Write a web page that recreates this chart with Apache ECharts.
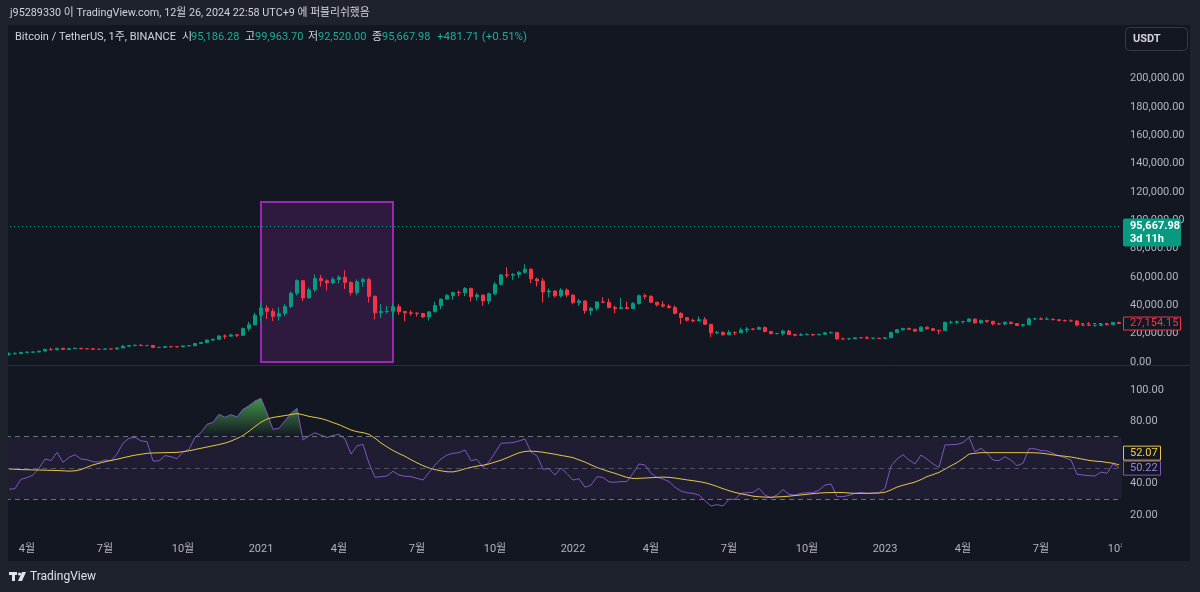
<!DOCTYPE html>
<html>
<head>
<meta charset="utf-8">
<script src="https://cdn.jsdelivr.net/npm/echarts@6/dist/echarts.min.js"></script>
<style>
html,body{margin:0;padding:0;background:#1e222d;}
#c{width:1200px;height:592px;}
</style>
</head>
<body>
<div id="c"></div>
<script>
// ---------- DATA ----------
const dates = [
'2020-03-16','2020-03-23','2020-03-30','2020-04-06','2020-04-13','2020-04-20','2020-04-27','2020-05-04','2020-05-11','2020-05-18','2020-05-25','2020-06-01','2020-06-08','2020-06-15','2020-06-22','2020-06-29','2020-07-06','2020-07-13','2020-07-20','2020-07-27','2020-08-03','2020-08-10','2020-08-17','2020-08-24','2020-08-31','2020-09-07','2020-09-14','2020-09-21','2020-09-28','2020-10-05','2020-10-12','2020-10-19','2020-10-26','2020-11-02','2020-11-09','2020-11-16','2020-11-23','2020-11-30','2020-12-07','2020-12-14','2020-12-21','2020-12-28',
'2021-01-04','2021-01-11','2021-01-18','2021-01-25','2021-02-01','2021-02-08','2021-02-15','2021-02-22','2021-03-01','2021-03-08','2021-03-15','2021-03-22','2021-03-29','2021-04-05','2021-04-12','2021-04-19','2021-04-26','2021-05-03','2021-05-10','2021-05-17','2021-05-24','2021-05-31','2021-06-07','2021-06-14','2021-06-21','2021-06-28','2021-07-05','2021-07-12','2021-07-19','2021-07-26','2021-08-02','2021-08-09','2021-08-16','2021-08-23','2021-08-30','2021-09-06','2021-09-13','2021-09-20','2021-09-27','2021-10-04','2021-10-11','2021-10-18','2021-10-25','2021-11-01','2021-11-08','2021-11-15','2021-11-22','2021-11-29','2021-12-06','2021-12-13','2021-12-20','2021-12-27',
'2022-01-03','2022-01-10','2022-01-17','2022-01-24','2022-01-31','2022-02-07','2022-02-14','2022-02-21','2022-02-28','2022-03-07','2022-03-14','2022-03-21','2022-03-28','2022-04-04','2022-04-11','2022-04-18','2022-04-25','2022-05-02','2022-05-09','2022-05-16','2022-05-23','2022-05-30','2022-06-06','2022-06-13','2022-06-20','2022-06-27','2022-07-04','2022-07-11','2022-07-18','2022-07-25','2022-08-01','2022-08-08','2022-08-15','2022-08-22','2022-08-29','2022-09-05','2022-09-12','2022-09-19','2022-09-26','2022-10-03','2022-10-10','2022-10-17','2022-10-24','2022-10-31','2022-11-07','2022-11-14','2022-11-21','2022-11-28','2022-12-05','2022-12-12','2022-12-19','2022-12-26',
'2023-01-02','2023-01-09','2023-01-16','2023-01-23','2023-01-30','2023-02-06','2023-02-13','2023-02-20','2023-02-27','2023-03-06','2023-03-13','2023-03-20','2023-03-27','2023-04-03','2023-04-10','2023-04-17','2023-04-24','2023-05-01','2023-05-08','2023-05-15','2023-05-22','2023-05-29','2023-06-05','2023-06-12','2023-06-19','2023-06-26','2023-07-03','2023-07-10','2023-07-17','2023-07-24','2023-07-31','2023-08-07','2023-08-14','2023-08-21','2023-08-28','2023-09-04','2023-09-11','2023-09-18','2023-09-25','2023-10-02'
];

const open = [
5361,5816,5881,6775,6911,7120,7698,8892,8722,9680,
8900,9453,9653,9378,9299,9012,8990,9235,9160,9940,
11100,11600,11850,11650,11620,10250,10330,10920,10780,10670,
11370,11500,13030,13800,15480,16000,18400,18200,19150,18800,
23700,26270,33000,38150,35800,32260,34250,39200,48600,57400,
45200,50970,59000,57300,55800,58200,59800,56150,49100,56700,
58200,46400,34700,35700,35800,39000,35600,34700,34500,34250,
31800,35400,39850,44400,47000,49000,48900,51800,46000,47300,
43100,48200,54900,61500,61300,61800,63300,65500,58600,57200,
49400,50100,46700,50800,47300,41900,43100,36300,37900,42400,
42200,38400,37700,38400,37800,41300,46800,46400,42200,40400,
39450,38470,34300,31300,29450,29000,29900,26600,20550,21000,
19300,20850,20600,22600,23300,23200,24300,21500,20000,20100,
21800,19400,18900,19300,19400,19200,19550,20600,20900,16300,
16280,16450,17100,17080,16780,16830,16600,17100,20900,22700,
23700,23100,21800,24600,23500,22400,22100,28000,28050,28450,
28600,30300,27600,29250,28700,26900,26850,28100,27100,25850,
26350,30450,30550,30200,30280,29850,29250,29050,28950,26100,
26000,25850,25900,26550,26250,27950
];
const high = [
6900,6957,7200,7469,7295,7792,9460,10067,9936,9906,
9740,10429,9996,9800,9750,9364,9470,9350,10120,12123,
12081,12245,12486,11800,12086,10800,11180,10990,10950,11500,
11720,13350,14100,15970,16480,18800,19500,19900,19420,24300,
28420,34778,41950,40100,37850,38530,40950,49700,58350,57500,
52640,61800,61500,58400,60000,61300,64850,57000,58450,59600,
59600,46700,40900,39500,41330,41000,36100,36600,35100,34650,
35400,42600,44800,48100,49400,50500,52900,52700,48800,47300,
49000,56560,62000,67000,62800,64270,69000,66300,59500,59400,
51950,50500,52100,52000,47550,44500,43500,38900,42650,45850,
44750,39850,45400,42600,42300,47700,48200,47000,42400,43000,
40800,40000,35200,31400,30600,32200,31700,26900,21900,21500,
22500,21600,24300,24700,23650,25200,25200,22000,20600,22800,
22800,19950,20350,20500,19950,19700,21100,21450,21000,17200,
16800,17400,17400,18400,17000,16900,17400,21300,23300,23800,
24250,23400,25250,25000,23900,22600,28400,29200,29200,28800,
31000,30500,30000,29800,29100,27700,28400,28450,27400,26850,
31400,31300,31500,31800,30400,30000,30050,30250,29500,26800,
28150,26400,27400,27450,28000,28600
];
const low = [
4442,5688,5858,6600,6466,6753,7631,8117,8200,8811,
8632,9266,8917,9200,8830,8893,8950,9000,9027,9920,
10956,11125,11400,11100,9825,9875,10200,10136,10365,10530,
11150,11400,12970,13200,14800,15780,16200,18000,17570,18700,
21800,25800,28130,30300,28850,29240,32300,37990,47000,43000,
44950,49250,53270,50400,55000,55500,51500,47000,47050,53000,
42000,30000,31100,34100,31000,33300,28800,32700,32100,31000,
29300,35200,37300,43800,43900,46300,46500,42800,43400,39600,
40750,47100,53900,59500,58000,59400,62300,55600,53250,42000,
45600,45500,45500,45700,40700,39700,34000,32900,36250,41600,
38000,34300,37200,37200,37600,40500,44200,41900,39200,38500,
37700,33700,26700,28700,28000,28900,26500,17600,19600,18600,
19000,18900,20600,20700,22400,22700,20800,19500,19500,18500,
19300,18100,18500,19000,18200,18900,19100,20000,15600,15800,
15500,16000,16700,16500,16300,16400,16500,17100,20400,22300,
22500,21400,21350,22800,21900,19550,21900,26600,26500,27200,
28150,27100,26950,27650,25800,26350,25900,26600,25350,24800,
26250,29500,29700,29900,29500,28900,28600,28750,25150,25800,
25400,24900,25150,26000,26000,27100
];
const close = [
5816,5881,6775,6911,7120,7698,8892,8722,9680,8900,
9453,9653,9378,9299,9012,8990,9235,9160,9940,11100,
11600,11850,11650,11620,10250,10330,10920,10780,10670,11370,
11500,13030,13800,15480,16000,18400,18200,19150,18800,23700,
26270,33000,38150,35800,32260,34250,39200,48600,57400,45200,
50970,59000,57300,55800,58200,59800,56150,49100,56700,58200,
46400,34700,35700,35800,39000,35600,34700,34500,34250,31800,
35400,39850,44400,47000,49000,48900,51800,46000,47300,43100,
48200,54900,61500,61300,61800,63300,65500,58600,57200,49400,
50100,46700,50800,47300,41900,43100,36300,37900,42400,42200,
38400,37700,38400,37800,41300,46800,46400,42200,40400,39450,
38470,34300,31300,29450,29000,29900,26600,20550,21000,19300,
20850,20600,22600,23300,23200,24300,21500,20000,20100,21800,
19400,18900,19300,19400,19200,19550,20600,20900,16300,16280,
16450,17100,17080,16780,16830,16600,17100,20900,22700,23700,
23100,21800,24600,23500,22400,22100,28000,28050,28450,28600,
30300,27600,29250,28700,26900,26850,28100,27100,25850,26350,
30450,30550,30200,30280,29850,29250,29050,28950,26100,26000,
25850,25900,26550,26250,27950,27154.15
];
const rsi = [
36.4,36.8,42.8,43.8,45.5,49.8,55.7,54.7,60.0,53.6,
56.8,58.5,55.7,55.3,54.0,53.8,55.1,54.7,58.9,65.8,
69.0,69.6,67.3,66.8,54.5,54.5,57.9,57.2,55.9,60.2,
61.9,69.6,72.6,77.9,79.2,84.3,82.4,84.1,82.6,87.5,
89.8,92.8,94.5,85.0,74.7,75.4,80.2,85.0,88.1,67.9,
70.5,72.5,71.0,69.5,70.8,71.5,68.5,58.9,64.1,65.1,
53.0,44.0,44.5,44.9,47.9,45.5,44.7,44.5,43.4,42.3,
47.0,51.9,55.7,58.3,59.4,59.8,61.5,54.7,55.5,50.4,
54.0,59.8,65.8,66.0,66.2,67.3,68.5,60.2,57.7,49.2,
49.6,45.5,50.0,46.4,42.3,43.2,37.7,39.1,44.5,44.0,
41.1,40.9,41.3,41.3,46.6,52.6,51.9,46.6,44.0,43.0,
41.3,37.7,35.3,34.2,33.8,32.7,29.1,25.7,26.6,25.7,
30.0,30.0,33.8,34.2,34.4,37.0,32.7,31.0,32.7,36.2,
33.2,32.7,33.8,34.2,34.2,35.9,39.1,39.8,31.7,31.7,
32.5,33.8,34.4,33.8,34.0,34.2,37.0,51.3,55.7,58.5,
55.1,52.6,58.3,55.7,52.6,50.4,64.7,64.9,65.1,66.2,
69.6,60.4,62.6,59.4,55.1,54.7,57.2,55.1,51.5,53.0,
62.3,62.3,61.1,60.9,59.4,57.7,56.6,55.1,46.0,45.5,
45.1,44.9,47.4,46.6,52.6,50.22
];
const rsiMA = [
49.4,49.2,49.0,48.9,48.8,48.7,48.6,48.5,48.4,48.2,
48.0,48.2,49.0,50.5,52.0,53.0,54.0,54.8,55.6,56.5,
57.4,58.2,58.8,59.4,59.6,59.7,59.8,59.9,60.0,60.4,
61.0,61.8,62.6,63.4,64.2,65.0,65.9,67.2,68.9,70.8,
73.5,76.5,79.3,81.3,82.3,82.9,83.5,84.2,84.8,84.0,
83.0,82.3,81.6,80.5,79.0,77.7,76.0,74.3,73.2,72.6,
71.5,69.0,66.0,63.5,61.2,59.2,57.5,55.3,53.3,51.5,
50.0,49.0,48.2,47.6,47.5,48.3,49.5,50.4,51.2,51.8,
52.6,53.8,55.0,56.5,58.2,59.7,60.6,60.8,60.5,60.1,
59.4,58.8,58.0,57.4,56.6,55.2,53.8,52.0,50.3,49.0,
47.7,46.6,45.2,44.0,43.3,43.4,43.6,43.8,44.0,44.2,
44.0,43.6,43.0,42.4,41.9,41.3,40.6,39.5,38.2,36.8,
35.5,34.4,33.5,32.8,32.0,31.6,31.4,31.3,31.5,31.7,
32.0,32.4,32.8,33.2,33.6,34.0,34.2,34.3,34.4,34.3,
34.0,33.8,33.8,33.8,33.9,34.0,34.5,36.0,37.8,39.0,
40.0,41.0,42.6,44.5,45.8,47.2,49.3,51.4,53.5,56.0,
58.9,59.4,59.8,59.8,59.8,59.8,59.8,59.8,59.8,59.8,
59.8,59.7,59.5,59.0,58.4,57.9,57.5,57.0,56.3,55.6,
54.9,54.4,54.1,53.6,53.0,52.07
];

const tickDates  = ['2020-04-06','2020-07-06','2020-10-05','2021-01-04','2021-04-05','2021-07-05','2021-10-04','2022-01-03','2022-04-04','2022-07-04','2022-10-03','2023-01-02','2023-04-03','2023-07-03','2023-10-02'];
const tickLabels = ['4월','7월','10월','2021','4월','7월','10월','2022','4월','7월','10월','2023','4월','7월','10월'];
const rsiTickLabels = [20, 40, 80, 100];
const rsiLevels = [70, 50, 30];
const lastPrice = 95667.98;
const lastClose = 27154.15;
const rsiLast = 50.22;
const maLast = 52.07;
const boxFrom = '2021-01-04', boxTo = '2021-06-07', boxTop = 112900, boxBottom = 0;

// ---------- CHART ----------
const FONT = 'Roboto, "Noto Sans CJK KR", sans-serif';
const UP = '#089981', DOWN = '#f23645';
const FRAME = '#1e222d', BG = '#131722';
const chart = echarts.init(document.getElementById('c'), null, {width:1200, height:592});

const candles = dates.map((d, i) => [open[i], close[i], low[i], high[i]]);
const fmtPrice = v => v.toLocaleString('en-US', {minimumFractionDigits:2, maximumFractionDigits:2});

const axisLabelStyle = {color:'#b2b5be', fontSize:11, fontFamily:FONT};

const option = {
  animation: false,
  backgroundColor: BG,
  textStyle: {fontFamily: FONT},
  grid: [
    {left:6, right:78, top:22, height:340},
    {left:6, right:78, top:358.45, height:187.8},
    {left:6, right:78, top:530, height:4}
  ],
  xAxis: [
    {type:'category', gridIndex:0, data:dates, show:false},
    {type:'category', gridIndex:1, data:dates, show:false},
    {type:'category', gridIndex:2, data:dates,
      axisLine:{show:false}, axisTick:{show:false}, splitLine:{show:false},
      axisLabel: Object.assign({}, axisLabelStyle, {
        margin: 10,
        interval: (i, v) => tickDates.indexOf(v) >= 0,
        formatter: v => { const j = tickDates.indexOf(v); return j >= 0 ? tickLabels[j] : ''; }
      })
    }
  ],
  yAxis: [
    {type:'value', gridIndex:0, position:'right', min:0, max:240000, interval:20000,
      splitLine:{show:false}, axisLine:{show:false}, axisTick:{show:false},
      axisLabel: Object.assign({}, axisLabelStyle, {margin:8, showMaxLabel:false,
        formatter: v => v > 200000 ? '' : fmtPrice(v)})
    },
    {type:'value', gridIndex:1, position:'right', min:0, max:120, interval:20,
      splitLine:{show:false}, axisLine:{show:false}, axisTick:{show:false},
      axisLabel: Object.assign({}, axisLabelStyle, {margin:8,
        formatter: v => rsiTickLabels.indexOf(v) >= 0 ? v.toFixed(2) : ''})
    },
    {type:'value', gridIndex:2, show:false}
  ],
  series: [
    {
      name:'BTCUSDT', type:'candlestick', xAxisIndex:0, yAxisIndex:0,
      data: candles, barWidth: 4,
      itemStyle: {color:UP, color0:DOWN, borderColor:UP, borderColor0:DOWN, borderWidth:1},
      markArea: {
        silent:true, label:{show:false},
        itemStyle:{color:'rgba(156,39,176,0.2)', borderColor:'#9c27b0', borderWidth:2},
        data: [[{coord:[boxFrom, boxTop]}, {coord:[boxTo, boxBottom]}]]
      },
      markLine: {
        silent:true, symbol:'none', label:{show:false},
        lineStyle:{color:UP, type:[1,3], width:1},
        data:[{yAxis:lastPrice}]
      }
    },
    {
      name:'RSI', type:'line', xAxisIndex:1, yAxisIndex:1, data: rsi,
      symbol:'none', z:3,
      lineStyle:{color:'#7e57c2', width:1},
      areaStyle:{color:'rgba(0,0,0,0)', opacity:1},
      markArea: {
        silent:true, label:{show:false},
        itemStyle:{color:'rgba(126,87,194,0.1)'},
        data: [[{yAxis:rsiLevels[2]}, {yAxis:rsiLevels[0]}]]
      },
      markLine: {
        silent:true, symbol:'none', label:{show:false},
        lineStyle:{color:'#787b86', type:[5,4], width:1},
        data: rsiLevels.map(v => ({yAxis:v, lineStyle:{opacity: v === 50 ? 0.55 : 0.9}}))
      }
    },
    {
      name:'RSI MA', type:'line', xAxisIndex:1, yAxisIndex:1, data: rsiMA,
      symbol:'none', z:4,
      lineStyle:{color:'#e8c547', width:1}
    }
  ]
};
chart.setOption(option);

// overbought gradient fill, positioned with the RSI axis scale
const y100 = chart.convertToPixel({yAxisIndex:1}, 100);
const y70 = chart.convertToPixel({yAxisIndex:1}, 70);
const grad = new echarts.graphic.LinearGradient(0, y100, 0, y70, [
  {offset:0, color:'rgba(76,175,80,1)'},
  {offset:1, color:'rgba(76,175,80,0)'}
], true);

const yP = chart.convertToPixel({yAxisIndex:0}, lastPrice);
const yC = chart.convertToPixel({yAxisIndex:0}, lastClose);
const yR = chart.convertToPixel({yAxisIndex:1}, rsiLast);

function txt(text, x, y, fill, size, weight, extra) {
  return Object.assign({type:'text', z:120, silent:true, style:{
    text, x, y, fill, fontSize:size || 11, fontFamily:FONT, fontWeight: weight || 'normal',
    verticalAlign:'middle', textVerticalAlign:'middle', align:'left', textAlign:'left'
  }}, extra || {});
}
const LBL = '#d1d4dc', VAL = '#22ab94';
const graphics = [
  // outer frame strips
  {type:'rect', z:100, silent:true, shape:{x:0,y:0,width:1200,height:25}, style:{fill:FRAME}},
  {type:'rect', z:100, silent:true, shape:{x:0,y:0,width:8,height:592}, style:{fill:FRAME}},
  {type:'rect', z:100, silent:true, shape:{x:1190,y:0,width:10,height:592}, style:{fill:FRAME}},
  {type:'rect', z:100, silent:true, shape:{x:0,y:561,width:1200,height:31}, style:{fill:FRAME}},
  // price-scale column over the time row
  {type:'rect', z:100, silent:true, shape:{x:1122,y:537,width:68,height:24}, style:{fill:BG}},
  // pane separator
  {type:'line', z:90, silent:true, shape:{x1:8,y1:365.5,x2:1190,y2:365.5}, style:{stroke:'#2a2e39', lineWidth:1}},
  // title
  txt('j95289330 이 TradingView.com, 12월 26, 2024 22:58 UTC+9 에 퍼블리쉬했음', 10, 13, LBL, 10.8),
  // legend
  txt('Bitcoin / TetherUS, 1주, BINANCE', 15, 37, LBL, 11),
  txt('시', 182, 37, LBL, 11), txt('95,186.28', 191, 37, VAL, 11),
  txt('고', 245, 37, LBL, 11), txt('99,963.70', 255, 37, VAL, 11),
  txt('저', 308, 37, LBL, 11), txt('92,520.00', 318, 37, VAL, 11),
  txt('종', 372, 37, LBL, 11), txt('95,667.98', 382, 37, VAL, 11),
  txt('+481.71 (+0.51%)', 437, 37, VAL, 11.5),
  // USDT box
  {type:'rect', z:110, silent:true, shape:{x:1125.5,y:27.5,width:62,height:23,r:4}, style:{fill:BG, stroke:'#363a45', lineWidth:1}},
  txt('USDT', 1133, 39, LBL, 11, 'bold'),
  // current price box
  {type:'rect', z:110, silent:true, shape:{x:1123,y:yP-8,width:58,height:28,r:2}, style:{fill:UP}},
  txt('95,667.98', 1130, yP, '#ffffff', 11, 'bold'),
  txt('3d 11h', 1130, yP+13, '#ffffff', 11, 'bold'),
  // last visible close
  {type:'line', z:95, silent:true, shape:{x1:1075,y1:yC,x2:1122,y2:yC}, style:{stroke:DOWN, lineWidth:1, lineDash:[3,3]}},
  {type:'rect', z:110, silent:true, shape:{x:1123.5,y:yC-6.5,width:57,height:13}, style:{fill:BG, stroke:DOWN, lineWidth:1}},
  txt('27,154.15', 1130, yC, DOWN, 11),
  // RSI boxes
  {type:'rect', z:110, silent:true, shape:{x:1123.5,y:yR-21.5,width:37,height:14}, style:{fill:BG, stroke:'#e8c547', lineWidth:1}},
  txt(maLast.toFixed(2), 1130, yR-14.5, '#f0d050', 11),
  {type:'rect', z:110, silent:true, shape:{x:1123.5,y:yR-6.5,width:37,height:14}, style:{fill:BG, stroke:'#7e57c2', lineWidth:1}},
  txt(rsiLast.toFixed(2), 1130, yR+0.5, '#9a85d9', 11),
  // TradingView logo
  {type:'rect', z:110, silent:true, shape:{x:9,y:572,width:8,height:3}, style:{fill:'#e0e3eb'}},
  {type:'rect', z:110, silent:true, shape:{x:12,y:572,width:3,height:9}, style:{fill:'#e0e3eb'}},
  {type:'circle', z:110, silent:true, shape:{cx:19.5,cy:574,r:1.6}, style:{fill:'#e0e3eb'}},
  {type:'polygon', z:110, silent:true, shape:{points:[[22,572],[26,572],[22,581],[18,581]]}, style:{fill:'#e0e3eb'}},
  txt('TradingView', 30, 577, '#e0e3eb', 12)
];

chart.setOption({
  series: [{}, {areaStyle:{color:grad, opacity:1}}, {}],
  graphic: graphics
});
</script>
</body>
</html>
